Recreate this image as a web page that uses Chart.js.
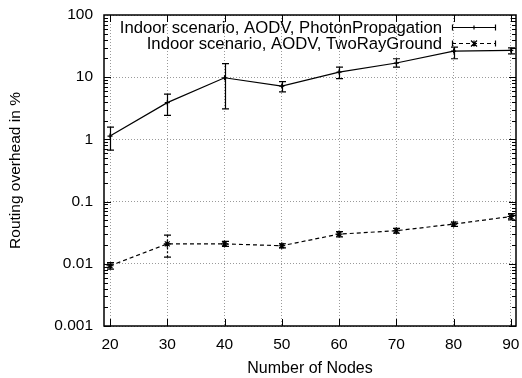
<!DOCTYPE html>
<html>
<head>
<meta charset="utf-8">
<script src="https://cdn.jsdelivr.net/npm/chart.js@4.4.1/dist/chart.umd.min.js"></script>
<style>
  html, body { margin: 0; padding: 0; background: #fff; }
  #wrap { width: 522px; height: 378px; }
</style>
</head>
<body>
<div id="wrap"><canvas id="myChart" width="522" height="378"></canvas></div>
<script>
// data
const nodes = [20, 30, 40, 50, 60, 70, 80, 90];

const photonMean = [1.13, 3.9, 9.8, 7.2, 12.1, 16.9, 26.3, 27.0];
const photonLow  = [0.67, 2.43, 3.1, 5.8, 9.5, 14.5, 19.8, 23.8];
const photonHigh = [1.58, 5.35, 16.5, 8.5, 14.5, 19.8, 30.5, 29.7];

const twoRayMean = [0.0093, 0.0209, 0.0209, 0.0195, 0.030, 0.034, 0.0435, 0.0576];
const twoRayLow  = [0.0082, 0.0128, 0.0190, 0.0180, 0.027, 0.031, 0.0400, 0.0510];
const twoRayHigh = [0.0105, 0.0290, 0.0230, 0.0210, 0.033, 0.037, 0.0470, 0.0640];

const seriesNames = ['Indoor scenario, AODV, PhotonPropagation', 'Indoor scenario, AODV, TwoRayGround'];
const yTickValues = [0.001, 0.01, 0.1, 1, 10, 100];
const yTickLabels = ['0.001', '0.01', '0.1', '1', '10', '100'];
const xTickValues = [20, 30, 40, 50, 60, 70, 80, 90];

const FONT = '"Liberation Sans", Arial, Helvetica, sans-serif';

const toPoints = (ys) => nodes.map((x, i) => ({ x: x, y: ys[i] }));

// error bars, frame, inward ticks and legend
const gnuplotBits = {
  id: 'gnuplotBits',
  afterDatasetsDraw(chart) {
    const ctx = chart.ctx;
    const xs = chart.scales.x;
    const ys = chart.scales.y;
    const area = chart.chartArea;

    // error bars
    const bars = [[photonLow, photonHigh, []], [twoRayLow, twoRayHigh, [2, 2]]];
    ctx.save();
    ctx.strokeStyle = '#000';
    ctx.lineWidth = 1.2;
    bars.forEach(([lo, hi, dash]) => {
      nodes.forEach((n, i) => {
        const px = Math.round(xs.getPixelForValue(n)) + 0.5;
        const y1 = ys.getPixelForValue(lo[i]);
        const y2 = ys.getPixelForValue(hi[i]);
        ctx.setLineDash(dash);
        ctx.beginPath();
        ctx.moveTo(px, y1); ctx.lineTo(px, y2);
        ctx.stroke();
        ctx.setLineDash([]);
        ctx.beginPath();
        ctx.moveTo(px - 3.5, y1); ctx.lineTo(px + 3.5, y1);
        ctx.moveTo(px - 3.5, y2); ctx.lineTo(px + 3.5, y2);
        ctx.stroke();
      });
    });

    // frame
    ctx.lineWidth = 1.5;
    ctx.strokeRect(area.left, area.top, area.right - area.left, area.bottom - area.top);

    // inward ticks
    ctx.lineWidth = 1;
    ctx.beginPath();
    xTickValues.forEach(v => {
      const px = Math.round(xs.getPixelForValue(v)) + 0.5;
      ctx.moveTo(px, area.bottom); ctx.lineTo(px, area.bottom - 7);
      ctx.moveTo(px, area.top); ctx.lineTo(px, area.top + 7);
    });
    for (let d = -3; d <= 1; d++) {
      for (let m = 1; m <= 9; m++) {
        const v = m * Math.pow(10, d);
        const py = Math.round(ys.getPixelForValue(v)) + 0.5;
        const len = m === 1 ? 7 : 4;
        ctx.moveTo(area.left, py); ctx.lineTo(area.left + len, py);
        ctx.moveTo(area.right, py); ctx.lineTo(area.right - len, py);
      }
    }
    ctx.stroke();

    // legend
    const rows = [
      { y: 27.5, dash: [], marker: 'plus' },
      { y: 43.5, dash: [4, 3], marker: 'cross' }
    ];
    ctx.font = '16.7px ' + FONT;
    ctx.fillStyle = '#000';
    ctx.textAlign = 'right';
    ctx.textBaseline = 'middle';
    rows.forEach((r, i) => {
      ctx.fillText(seriesNames[i], 442, r.y + 0.5);
      const x1 = 452, x2 = 496, xm = 474;
      ctx.lineWidth = 1.2;
      ctx.setLineDash(r.dash);
      ctx.beginPath();
      ctx.moveTo(x1, r.y); ctx.lineTo(x2, r.y);
      ctx.stroke();
      ctx.setLineDash([]);
      ctx.beginPath();
      ctx.moveTo(x1 + 0.5, r.y - 3); ctx.lineTo(x1 + 0.5, r.y + 3);
      ctx.moveTo(x2 - 0.5, r.y - 3); ctx.lineTo(x2 - 0.5, r.y + 3);
      if (r.marker === 'plus') {
        ctx.moveTo(xm - 2, r.y); ctx.lineTo(xm + 2, r.y);
        ctx.moveTo(xm, r.y - 2); ctx.lineTo(xm, r.y + 2);
      } else {
        ctx.moveTo(xm - 3, r.y - 3); ctx.lineTo(xm + 3, r.y + 3);
        ctx.moveTo(xm - 3, r.y + 3); ctx.lineTo(xm + 3, r.y - 3);
        ctx.moveTo(xm, r.y - 3); ctx.lineTo(xm, r.y + 3);
      }
      ctx.stroke();
    });
    ctx.restore();
  }
};

const data = {
  datasets: [
    {
      label: seriesNames[0],
      data: toPoints(photonMean),
      borderColor: '#000',
      backgroundColor: '#000',
      borderWidth: 1.2,
      pointStyle: 'cross',
      pointRadius: 2.5,
      pointBorderWidth: 1.2,
      tension: 0
    },
    {
      label: seriesNames[1],
      data: toPoints(twoRayMean),
      borderColor: '#000',
      backgroundColor: '#000',
      borderWidth: 1.2,
      borderDash: [4, 3],
      pointStyle: 'star',
      pointRadius: 3.5,
      pointBorderWidth: 1.2,
      tension: 0
    }
  ]
};

const config = {
  type: 'line',
  data,
  options: {
    responsive: false,
    animation: false,
    layout: { padding: { top: 15, right: 6, left: 0, bottom: 0 } },
    plugins: {
      legend: { display: false },
      tooltip: { enabled: false }
    },
    scales: {
      x: {
        type: 'linear',
        min: 18.95,
        max: 90.9,
        afterBuildTicks: (axis) => { axis.ticks = xTickValues.map(v => ({ value: v })); },
        afterFit: (axis) => { axis.height = 52; axis.paddingLeft = 0; axis.paddingRight = 0; },
        ticks: {
          color: '#000',
          font: { family: FONT, size: 15.5 },
          padding: 9,
          maxRotation: 0,
          callback: (v) => String(v)
        },
        grid: {
          color: '#9a9a9a',
          lineWidth: 1,
          drawTicks: false
        },
        border: { display: false, dash: [1, 2] },
        title: {
          display: true,
          text: 'Number of Nodes',
          color: '#000',
          font: { family: FONT, size: 16 },
          padding: { top: 4, bottom: 0 }
        }
      },
      y: {
        type: 'logarithmic',
        min: 0.001,
        max: 100,
        afterBuildTicks: (axis) => { axis.ticks = yTickValues.map(v => ({ value: v })); },
        afterFit: (axis) => { axis.width = 104; axis.paddingTop = 0; axis.paddingBottom = 0; },
        ticks: {
          color: '#000',
          font: { family: FONT, size: 15.5 },
          padding: 11,
          callback: (v) => {
            const i = yTickValues.findIndex(t => Math.abs(t - v) / t < 1e-6);
            return i >= 0 ? yTickLabels[i] : '';
          }
        },
        grid: {
          color: '#9a9a9a',
          lineWidth: 1,
          drawTicks: false
        },
        border: { display: false, dash: [1, 2] },
        title: {
          display: true,
          text: 'Routing overhead in %',
          color: '#000',
          font: { family: FONT, size: 15.5 },
          padding: { top: 6, bottom: 0 }
        }
      }
    }
  },
  plugins: [gnuplotBits]
};

const myChart = new Chart(document.getElementById('myChart'), config);
</script>
</body>
</html>
